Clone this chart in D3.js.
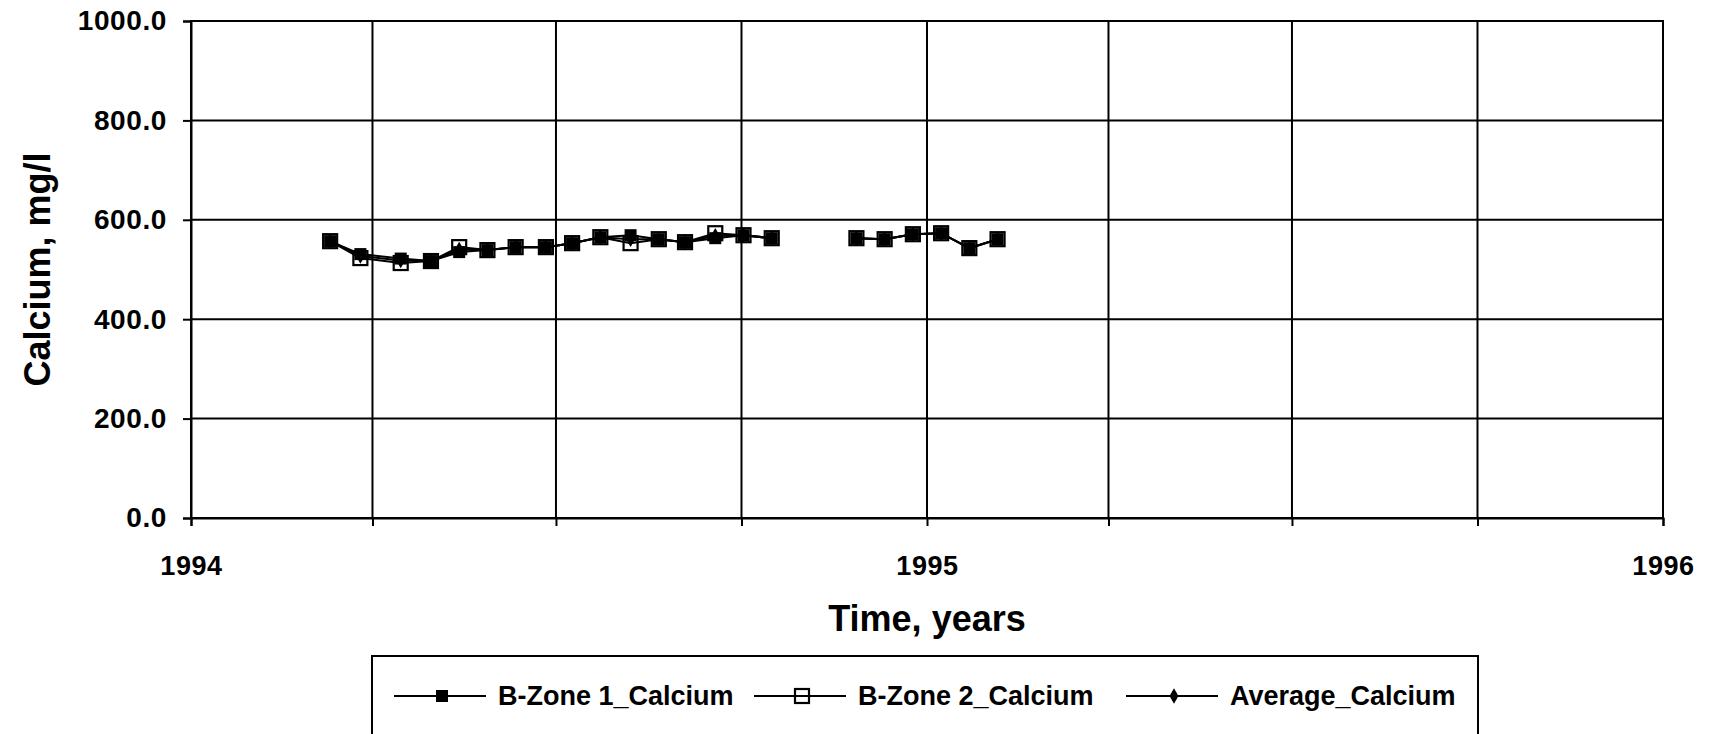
<!DOCTYPE html>
<html lang="en">
<head>
    <meta charset="UTF-8">
    <title>Calcium vs Time</title>
    <script src="https://d3js.org/d3.v7.min.js"></script>
    <style>
        body {
            margin: 0;
            padding: 0;
            background-color: #ffffff;
            overflow: hidden;
        }
        svg {
            display: block;
            font-family: "Liberation Sans", Arial, sans-serif;
            font-weight: bold;
        }
    </style>
</head>
<body>
    <svg id="chart" width="1714" height="734"></svg>

    <script>
        // sampling dates (roughly every two weeks)
        const dates = [
            "1994-03-11", "1994-03-26", "1994-04-15", "1994-04-30", "1994-05-14", "1994-05-28",
            "1994-06-11", "1994-06-26", "1994-07-09", "1994-07-23", "1994-08-07", "1994-08-21",
            "1994-09-03", "1994-09-18", "1994-10-02", "1994-10-16",
            "1994-11-27", "1994-12-11", "1994-12-25", "1995-01-08", "1995-01-22", "1995-02-05"
        ];
        const zone1 = [557, 531, 522, 517, 535, 539, 545, 545, 553, 565, 569, 561, 555, 563, 569, 563,
                       563, 561, 571, 573, 543, 561];
        const zone2 = [557, 523, 513, 517, 545, 539, 545, 545, 553, 565, 553, 561, 555, 573, 569, 563,
                       563, 561, 571, 573, 543, 561];
        const average = [557, 527, 518, 517, 540, 539, 545, 545, 553, 565, 561, 561, 555, 568, 569, 563,
                         563, 561, 571, 573, 543, 561];
        const seriesNames = ["B-Zone 1_Calcium", "B-Zone 2_Calcium", "Average_Calcium"];
        const yTicks = [0, 200, 400, 600, 800, 1000];
        const xLabels = ["1994", "1995", "1996"];

        const parse = d3.timeParse("%Y-%m-%d");
        const margin = {left: 191, right: 51, top: 21, bottom: 216};
        const W = 1714, H = 734;
        const lw = 2;

        const svg = d3.select("#chart");

        const x = d3.scaleTime()
            .domain([new Date(1994, 0, 1), new Date(1996, 0, 1)])
            .range([margin.left, W - margin.right]);
        const y = d3.scaleLinear()
            .domain([0, 1000])
            .range([H - margin.bottom, margin.top]);

        const quarters = x.ticks(d3.timeMonth.every(3));

        // grid
        svg.append("g")
            .selectAll("line")
            .data(yTicks)
            .join("line")
            .attr("x1", margin.left).attr("x2", W - margin.right)
            .attr("y1", d => y(d)).attr("y2", d => y(d))
            .attr("stroke", "#000").attr("stroke-width", lw);

        svg.append("g")
            .selectAll("line")
            .data(quarters)
            .join("line")
            .attr("x1", d => x(d)).attr("x2", d => x(d))
            .attr("y1", margin.top).attr("y2", H - margin.bottom)
            .attr("stroke", "#000").attr("stroke-width", lw);

        // axes
        const yAxis = d3.axisLeft(y)
            .tickValues(yTicks)
            .tickSize(8)
            .tickPadding(16)
            .tickFormat(d3.format(".1f"));
        const gy = svg.append("g")
            .attr("transform", `translate(${margin.left},0)`)
            .call(yAxis);
        gy.select(".domain").attr("stroke", "#000").attr("stroke-width", lw);
        gy.selectAll("line").attr("stroke-width", lw);
        gy.selectAll("text").attr("font-size", 28).attr("fill", "#000")
            .attr("letter-spacing", 0.6)
            .attr("font-family", "Liberation Sans, Arial, sans-serif").attr("font-weight", "bold");

        const xAxis = d3.axisBottom(x)
            .tickValues(quarters)
            .tickSize(8)
            .tickPadding(30)
            .tickFormat(d => xLabels.includes(d3.timeFormat("%Y")(d)) && d.getMonth() === 0
                ? d3.timeFormat("%Y")(d) : "");
        const gx = svg.append("g")
            .attr("transform", `translate(0,${H - margin.bottom})`)
            .call(xAxis);
        gx.select(".domain").attr("stroke", "#000").attr("stroke-width", lw);
        gx.selectAll("line").attr("stroke-width", lw);
        gx.selectAll("text").attr("font-size", 27).attr("fill", "#000")
            .attr("letter-spacing", 0.6)
            .attr("font-family", "Liberation Sans, Arial, sans-serif").attr("font-weight", "bold");

        // plot frame
        svg.append("rect")
            .attr("x", margin.left).attr("y", margin.top)
            .attr("width", W - margin.right - margin.left)
            .attr("height", H - margin.bottom - margin.top)
            .attr("fill", "none").attr("stroke", "#000").attr("stroke-width", lw);

        // axis titles
        svg.append("text")
            .attr("x", (margin.left + W - margin.right) / 2)
            .attr("y", 631)
            .attr("text-anchor", "middle")
            .attr("font-size", 36)
            .text("Time, years");

        svg.append("text")
            .attr("transform", `translate(50,${(margin.top + H - margin.bottom) / 2}) rotate(-90)`)
            .attr("text-anchor", "middle")
            .attr("font-size", 36)
            .text("Calcium, mg/l");

        // series
        const series = [zone1, zone2, average].map((vals, i) => ({
            name: seriesNames[i],
            points: vals.map((v, j) => ({date: parse(dates[j]), value: v}))
        }));

        const line = d3.line()
            .x(d => x(d.date))
            .y(d => y(d.value));

        // no samples between mid-October and late November, so the line breaks there
        const segments = pts => [pts.slice(0, 16), pts.slice(16)];

        const markerFns = [
            (g) => g.append("rect").attr("x", -6).attr("y", -6).attr("width", 12).attr("height", 12)
                .attr("fill", "#000"),
            (g) => g.append("rect").attr("x", -7).attr("y", -7).attr("width", 14).attr("height", 14)
                .attr("fill", "none").attr("stroke", "#000").attr("stroke-width", 2.2),
            (g) => g.append("path").attr("d", d3.symbol(d3.symbolDiamond, 70)())
                .attr("fill", "#000")
        ];

        series.forEach((s, i) => {
            const g = svg.append("g");
            segments(s.points).forEach(seg => {
                g.append("path")
                    .datum(seg)
                    .attr("fill", "none")
                    .attr("stroke", "#000")
                    .attr("stroke-width", 2)
                    .attr("d", line);
            });
            s.points.forEach(p => {
                const m = g.append("g").attr("transform", `translate(${x(p.date)},${y(p.value)})`);
                markerFns[i](m);
            });
        });

        // legend
        const legend = svg.append("g");
        legend.append("rect")
            .attr("x", 372).attr("y", 656)
            .attr("width", 1106).attr("height", 100)
            .attr("fill", "#fff").attr("stroke", "#000").attr("stroke-width", lw);

        const legendX = [394, 754, 1126];
        seriesNames.forEach((name, i) => {
            const lg = legend.append("g").attr("transform", `translate(${legendX[i]},696)`);
            lg.append("line").attr("x1", 0).attr("x2", 92).attr("y1", 0).attr("y2", 0)
                .attr("stroke", "#000").attr("stroke-width", 2);
            const m = lg.append("g").attr("transform", "translate(48,0)");
            markerFns[i](m);
            lg.append("text")
                .attr("x", 104).attr("y", 0).attr("dy", "0.35em")
                .attr("font-size", 27)
                .text(name);
        });
    </script>
</body>
</html>
